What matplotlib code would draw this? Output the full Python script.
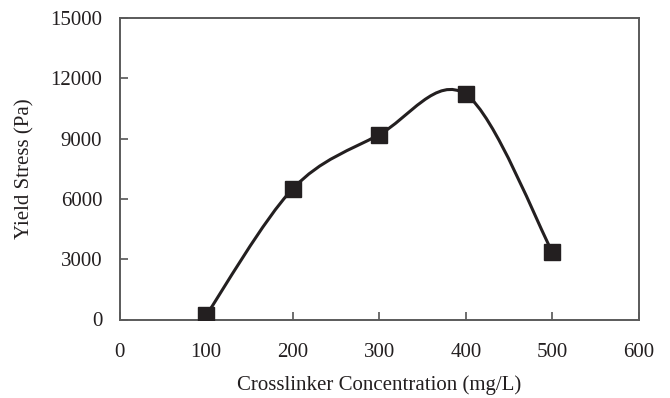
import matplotlib
matplotlib.use("Agg")
import matplotlib.pyplot as plt
from matplotlib.path import Path
from matplotlib.patches import PathPatch
import numpy as np

concentration = [100, 200, 300, 400, 500]
yield_stress = [200, 6500, 9200, 11200, 3350]
x_ticks = [0, 100, 200, 300, 400, 500, 600]
y_ticks = [0, 3000, 6000, 9000, 12000, 15000]

plt.rcParams['font.family'] = ['Liberation Serif', 'DejaVu Serif']

fig = plt.figure(figsize=(6.7, 3.98), dpi=100)
ax = fig.add_axes([119.5/670, 1 - 319.5/398, (639 - 119.5)/670, (319.5 - 18)/398])

# Excel-style smoothed line (cardinal Bezier through the data points)
xs = np.array(concentration, float)
ys = np.array(yield_stress, float)
n = len(xs)
verts = [(xs[0], ys[0])]
codes = [Path.MOVETO]
for i in range(n - 1):
    xm = xs[i - 1] if i > 0 else xs[i]
    ym = ys[i - 1] if i > 0 else ys[i]
    xp = xs[i + 2] if i + 2 < n else xs[i + 1]
    yp = ys[i + 2] if i + 2 < n else ys[i + 1]
    c1 = (xs[i] + (xs[i + 1] - xm) / 6, ys[i] + (ys[i + 1] - ym) / 6)
    c2 = (xs[i + 1] - (xp - xs[i]) / 6, ys[i + 1] - (yp - ys[i]) / 6)
    verts += [c1, c2, (xs[i + 1], ys[i + 1])]
    codes += [Path.CURVE4] * 3
ax.add_patch(PathPatch(Path(verts, codes), facecolor='none', edgecolor='#231f20', lw=2.2, zorder=2))
ax.plot(concentration, yield_stress, linestyle='none', marker='s', markersize=11,
        color='#231f20', zorder=3)

ax.set_xlim(0, 600)
ax.set_ylim(0, 15000)
ax.set_xticks(x_ticks)
ax.set_yticks(y_ticks)
ax.tick_params(direction='in', length=6, width=1.2, color='#555555', labelsize=15,
               labelcolor='#231f20')
ax.tick_params(axis='x', pad=17)
ax.tick_params(axis='y', pad=12.5)
for s in ax.spines.values():
    s.set_color('#5a5a5a')
    s.set_linewidth(1.4)

ax.set_xlabel('Crosslinker Concentration (mg/L)', fontsize=15, color='#231f20', labelpad=9.5)
ax.set_ylabel('Yield Stress (Pa)', fontsize=15, color='#231f20', labelpad=11.5)

fig.savefig('out.png', dpi=100)
